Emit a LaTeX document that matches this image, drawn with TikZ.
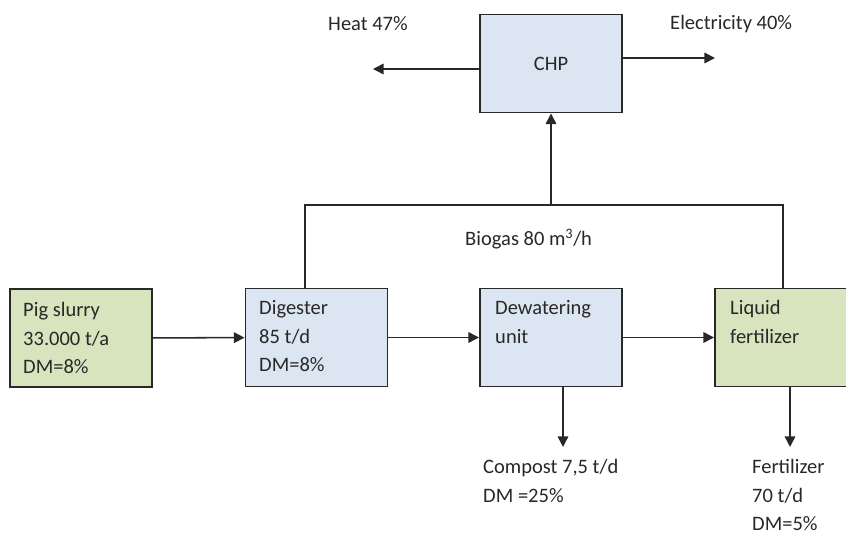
\documentclass[tikz,border=0pt]{standalone}
\usepackage{fontspec}
\setmainfont{Carlito}
\usetikzlibrary{arrows.meta, positioning}
\definecolor{boxgreen}{RGB}{215,228,189}
\definecolor{boxblue}{RGB}{220,230,242}
\definecolor{ink}{RGB}{40,40,40}

\begin{document}
\begin{tikzpicture}[x=0.03cm, y=-0.03cm,
        unitbox/.style={draw=ink, line width=1.4pt, minimum width=4.27cm, minimum height=2.95cm, inner sep=0pt, text=ink, font=\fontsize{17.5}{24.5}\selectfont},
        flow/.style={draw=ink, line width=1.3pt, -{Triangle[length=9pt, width=9pt]}},
        pipe/.style={draw=ink, line width=1.3pt},
        lbl/.style={inner sep=0pt, text=ink, align=left, font=\fontsize{17.5}{24.5}\selectfont}]
        \useasboundingbox (0,0) rectangle (846,535);
        \clip (0,0) rectangle (846,535);

        % units
        \node[unitbox, fill=boxgreen] (slurry) at (81,338) {};
        \node[unitbox, fill=boxblue] (digester) at (316.5,337.5) {};
        \node[unitbox, fill=boxblue] (dewater) at (551,337.5) {};
        \node[unitbox, fill=boxgreen] (liquid) at (786,337.5) {};
        \node[unitbox, fill=boxblue] (chp) at (551,63.5) {CHP};

        % texts in the units
        \node[lbl, anchor=north west] (slurrytxt) at (23,302) {Pig slurry\\33.000 t/a\\DM=8\%};
        \node[lbl, anchor=north west] (digestertxt) at (259,300) {Digester\\85 t/d\\DM=8\%};
        \node[lbl, anchor=north west] (dewatertxt) at (495,300) {Dewatering\\unit};
        \node[lbl, anchor=north west] (liquidtxt) at (730,300) {Liquid\\fertilizer};

        % free ends
        \coordinate (gasL) at (305,205);
        \coordinate (gasM) at (551,205);
        \coordinate (gasR) at (783,205);
        \coordinate (heatend) at (373,69);
        \coordinate (elecend) at (715,58);
        \coordinate (compostend) at (563,447);
        \coordinate (fertend) at (790,447);

        % main line
        \draw[flow] (slurry) -- (digester);
        \draw[flow] (digester) -- (dewater);
        \draw[flow] (dewater) -- (liquid);

        % biogas
        \draw[pipe] (digester.north -| gasL) |- (gasR) -- (liquid.north -| gasR);
        \draw[flow] (gasM) -- (chp.south);
        \node[lbl, anchor=west] (biogas) at (465,239) {Biogas 80 m\textsuperscript{3}/h};

        % CHP outputs
        \draw[flow] (chp.west |- heatend) -- (heatend);
        \draw[flow] (chp.east |- elecend) -- (elecend);
        \node[lbl, anchor=west] (heat) at (328,24) {Heat 47\%};
        \node[lbl, anchor=west] (elec) at (670,24) {Electricity 40\%};

        % products
        \draw[flow] (dewater.south -| compostend) -- (compostend);
        \draw[flow] (liquid.south -| fertend) -- (fertend);
        \node[lbl, anchor=north west] (compost) at (483,459) {Compost 7,5 t/d\\DM =25\%};
        \node[lbl, anchor=north west] (fert) at (752,459) {Fertilizer\\70 t/d\\DM=5\%};

    \end{tikzpicture}
\end{document}
